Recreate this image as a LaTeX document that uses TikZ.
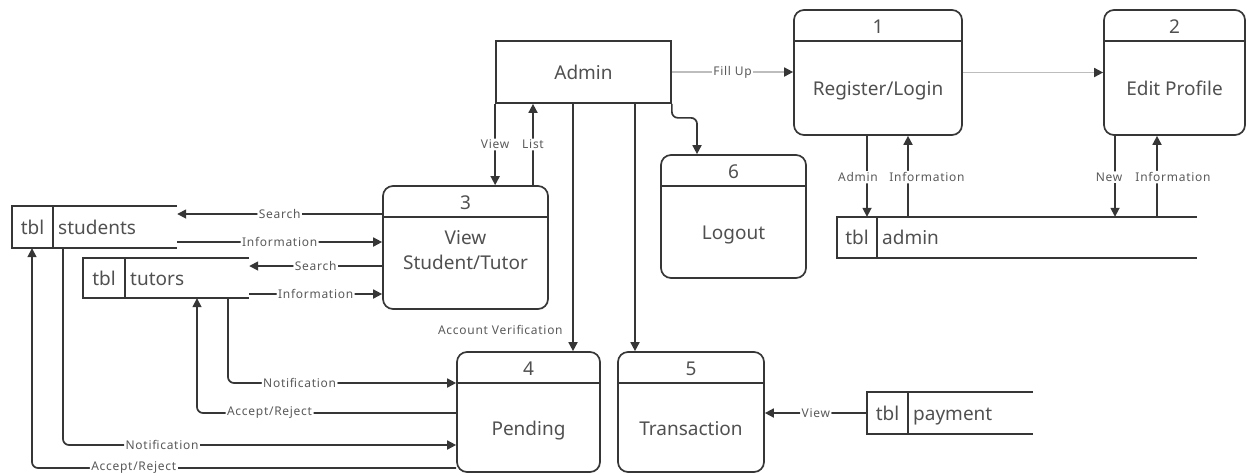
\documentclass[tikz,border=0pt]{standalone}
\usepackage{fontspec}
\setmainfont{Noto Sans}
\newfontfamily\lblfont[LetterSpace=6]{Noto Sans}
\usetikzlibrary{arrows.meta}
\definecolor{lc}{HTML}{363636}
\definecolor{tc}{HTML}{505050}
\definecolor{lt}{HTML}{BDBDBD}
\definecolor{lb}{HTML}{5A5A5A}
\tikzset{
  ln/.style={draw=lc, line width=1.7pt},
  arr/.style={ln, -{Triangle[length=9pt,width=9pt]}, rounded corners=6pt},
  larr/.style={draw=lt, line width=1.7pt, -{Triangle[length=9pt,width=9pt,color=lc]}},
  lbl/.style={fill=white, text=lb, inner sep=1.5pt, font=\lblfont\fontsize{12}{14}\selectfont},
  bx/.style={text=tc, font=\fontsize{19}{25}\selectfont, inner sep=0pt, anchor=base},
  procbox/.style={ln, rounded corners=10pt, inner sep=0pt},
  extbox/.style={ln, inner sep=0pt},
  area/.style={inner sep=0pt},
}
% name, x1, y1, x2, y2, number, text, text centre y (last line)
\newcommand\procnode[8]{%
  \node[procbox, minimum width={#4-#2}, minimum height={#5-#3}] (#1) at ({(#2+#4)/2},{(#3+#5)/2}) {};
  \draw[ln] (#2,#3+31) -- (#4,#3+31);
  \node[bx] (#1num) at ({(#2+#4)/2},#3+23) {#6};
  \node[bx, align=center] (#1txt) at ({(#2+#4)/2},#8+7) {#7};
}
% name, x1, y1, x2, y2, xdiv, label
\newcommand\tblnode[7]{%
  \node[area, minimum width={#4-#2}, minimum height={#5-#3}] (#1) at ({(#2+#4)/2},{(#3+#5)/2}) {};
  \draw[ln] (#4,#3) -- (#2,#3) -- (#2,#5) -- (#4,#5);
  \draw[ln] (#6,#3) -- (#6,#5);
  \node[bx] (#1tbl) at ({(#2+#6)/2},{(#3+#5)/2+7}) {tbl};
  \node[bx, anchor=base west] (#1name) at (#6+5,{(#3+#5)/2+7}) {#7};
}
\begin{document}
\begin{tikzpicture}[x=1pt,y=-1pt]
\useasboundingbox (0,0) rectangle (1247,475);
% external entity
\node[extbox, minimum width=175, minimum height=62] (admin) at (583.5,72) {};
\node[bx] (admintxt) at (583.5,79) {Admin};
% processes
\procnode{p1}{794}{10}{962}{135}{1}{Register/Login}{88}
\procnode{p2}{1104}{10}{1245}{135}{2}{Edit Profile}{88}
\procnode{p3}{383}{186}{548}{309}{3}{View\\Student/Tutor}{262}
\procnode{p6}{661}{155}{806}{278}{6}{Logout}{232}
\procnode{p4}{457}{352}{600}{472}{4}{Pending}{428}
\procnode{p5}{618}{352}{764}{472}{5}{Transaction}{428}
% data stores
\tblnode{tstud}{12}{206}{177}{248}{53}{students}
\tblnode{ttut}{83}{258}{249}{298}{125}{tutors}
\tblnode{tadm}{837}{217}{1197}{258}{877}{admin}
\tblnode{tpay}{867}{392}{1033}{434}{908}{payment}
% admin flows
\draw[larr] (admin.east) -- node[lbl]{Fill Up} (admin.east -| p1.west);
\draw[larr] (p1.east) -- (p2.west);
\draw[arr] (admin.south east) -- ++(0,14) -| (697,0 |- p6.north);
\draw[arr] (admin.south west) -- node[lbl]{View} (admin.south west |- p3.north);
\draw[arr] (p3.north -| 533,0) -- node[lbl]{List} (admin.south -| 533,0);
\draw[arr] (admin.south -| 573,0) -- node[pos=0.916, lbl, anchor=east, fill=none, xshift=-8pt]{Account Verification} (p4.north -| 573,0);
\draw[arr] (admin.south -| 635,0) -- (p5.north -| 635,0);
% register / edit profile
\draw[arr] (p1.south -| 867,0) -- node[lbl, pos=0.51, xshift=-9pt]{Admin} (tadm.north -| 867,0);
\draw[arr] (tadm.north -| 908,0) -- node[lbl, pos=0.49, xshift=19pt]{Information} (p1.south -| 908,0);
\draw[arr] (p2.south -| 1115,0) -- node[lbl, pos=0.51, xshift=-6pt]{New} (tadm.north -| 1115,0);
\draw[arr] (tadm.north -| 1157,0) -- node[lbl, pos=0.49, xshift=16pt]{Information} (p2.south -| 1157,0);
% view student / tutor
\draw[arr] (p3.west |- 0,214) -- node[lbl]{Search} (tstud.east |- 0,214);
\draw[arr] (tstud.east |- 0,242) -- node[lbl]{Information} (p3.west |- 0,242);
\draw[arr] (p3.west |- 0,266) -- node[lbl]{Search} (ttut.east |- 0,266);
\draw[arr] (ttut.east |- 0,294) -- node[lbl]{Information} (p3.west |- 0,294);
% pending
\draw[arr] (ttut.south -| 228,0) |- node[lbl, pos=0.657]{Notification} (p4.west |- 0,383);
\draw[arr] (p4.west |- 0,413) -| node[lbl, pos=0.36]{Accept/Reject} (ttut.south -| 197,0);
\draw[arr] (tstud.south -| 63,0) |- node[lbl, pos=0.626]{Notification} (p4.west |- 0,445);
\draw[arr] (p4.west |- 0,468) -| node[lbl, pos=0.38]{Accept/Reject} (tstud.south -| 32,0);
% transaction
\draw[arr] (tpay.west) -- node[lbl]{View} (tpay.west -| p5.east);
\end{tikzpicture}
\end{document}
